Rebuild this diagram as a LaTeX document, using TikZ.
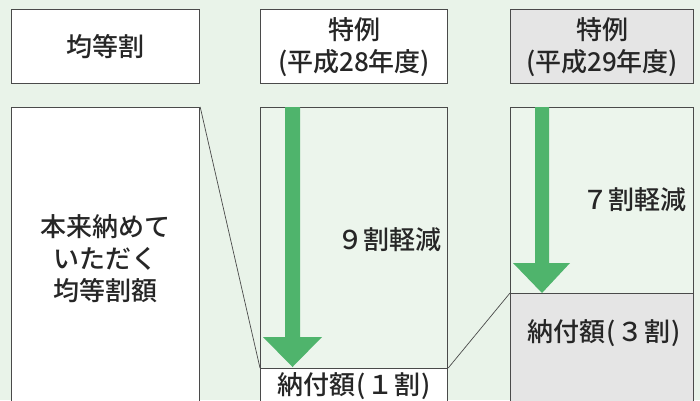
\documentclass[tikz,border=0pt]{standalone}
\usepackage{fontspec}
\setmainfont{Noto Sans CJK JP}[UprightFont=* Medium]
\definecolor{bgc}{HTML}{E9F3E9}
\definecolor{innerc}{HTML}{ECF5EC}
\definecolor{linec}{HTML}{4A4A4A}
\definecolor{grayc}{HTML}{E5E5E5}
\definecolor{arrowc}{HTML}{4FB46C}
\definecolor{txtc}{HTML}{262626}
\begin{document}
\begin{tikzpicture}[x=1pt,y=-1pt,
  box/.style={draw=linec, line width=1.2pt, anchor=north west, inner sep=0pt,
    align=center, text=txtc, font=\fontsize{26}{32}\selectfont},
  lbl/.style={inner sep=0pt, text=txtc, font=\fontsize{26}{32}\selectfont},
  link/.style={draw=linec, line width=0.7pt},
  bigarrow/.style={fill=arrowc}]
\clip (0,0) rectangle (700,400);
\fill[bgc] (0,0) rectangle (700,400);
% header boxes
\node[box, fill=white, minimum width=188pt, minimum height=74pt] (h1) at (11,9) {均等割};
\node[box, fill=white, minimum width=187pt, minimum height=74pt] (h2) at (260,9) {特例\\(平成28年度)};
\node[box, fill=grayc, minimum width=183pt, minimum height=74pt] (h3) at (510,9) {特例\\(平成29年度)};
% lower column 1
\node[box, fill=white, minimum width=188pt, minimum height=303pt, font=\fontsize{26}{32}\selectfont] (c1) at (11,107) {本来納めて\\いただく\\均等割額};
% column 2
\node[box, fill=innerc, minimum width=187pt, minimum height=261pt] (c2a) at (260,107) {};
\node[box, fill=white, minimum width=187pt, minimum height=34pt] (c2b) at (260,368) {納付額\kern1pt(\kern2pt１\kern1pt割\kern1pt)};
% column 3
\node[box, fill=innerc, minimum width=183pt, minimum height=186pt] (c3a) at (510,107) {};
\node[box, fill=grayc, minimum width=183pt, minimum height=120pt] (c3b) at (510,293) {};
% labels
\node[lbl] (l2) at (389,240) {９割軽減};
\node[lbl] (l3) at (634,200) {７割軽減};
\node[lbl] (l3b) at (604,333) {納付額\kern1pt(\kern2pt３\kern1pt割\kern1pt)};
% arrows
\fill[bigarrow] (285,107) -- (300,107) -- (300,337) -- (322,337) -- (292.5,367) -- (263,337) -- (285,337) -- cycle;
\fill[bigarrow] (535,107) -- (549,107) -- (549,263) -- (570,263) -- (542,293) -- (513,263) -- (535,263) -- cycle;
% connecting lines
\draw[link] (c1.north east) -- (c2b.north west);
\draw[link] (c2b.north east) -- (c3b.north west);
\end{tikzpicture}
\end{document}
